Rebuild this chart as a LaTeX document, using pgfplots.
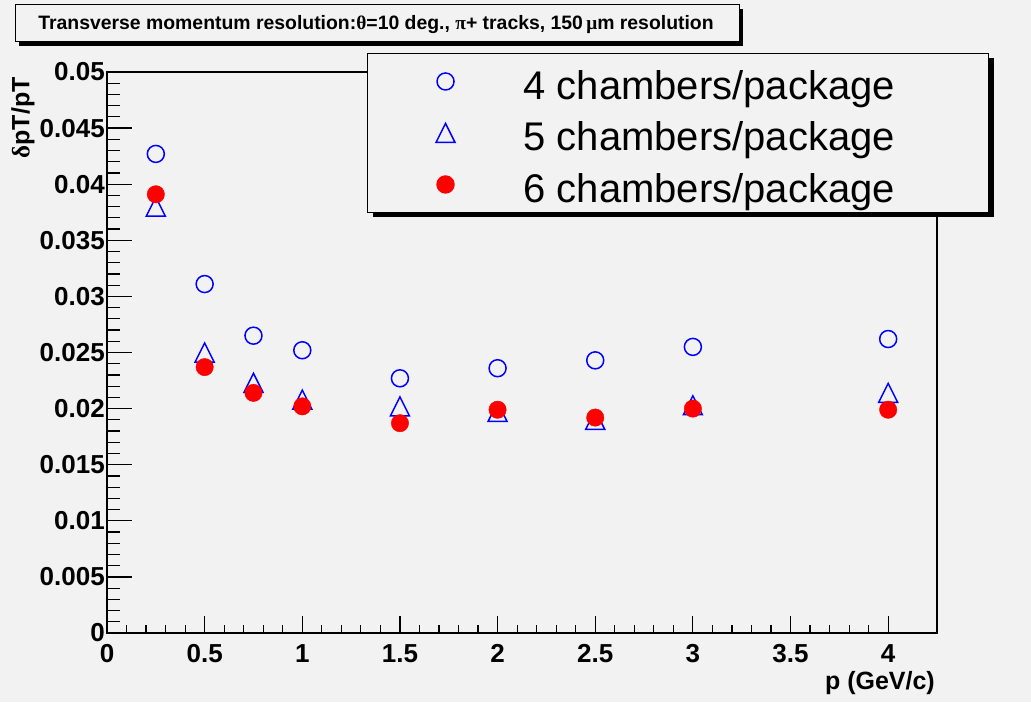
\documentclass[border=0pt]{standalone}
\usepackage{fontspec}
\setmainfont{Liberation Sans}
\newfontfamily\symfont{Liberation Serif}
\usepackage{pgfplots}
\pgfplotsset{compat=1.18}
\usetikzlibrary{shadows}
\definecolor{bg}{RGB}{242,242,242}
\definecolor{rblue}{RGB}{0,0,255}
\definecolor{rred}{RGB}{255,0,0}
\pgfdeclareplotmark{rtri}{%
  \pgfpathmoveto{\pgfqpoint{0pt}{\pgfplotmarksize}}%
  \pgfpathlineto{\pgfqpoint{-\pgfplotmarksize}{-\pgfplotmarksize}}%
  \pgfpathlineto{\pgfqpoint{\pgfplotmarksize}{-\pgfplotmarksize}}%
  \pgfpathclose\pgfusepathqstroke}
\begin{document}
\begin{tikzpicture}
\path[fill=bg,use as bounding box] (0,0) rectangle (1031pt,702pt);
% title box
\fill[black] (19pt,656pt) rectangle (743pt,693pt);
\draw[fill=bg, line width=1pt] (15pt,697pt) rectangle (739pt,660pt);
\node[font=\fontsize{19.4}{22}\selectfont\bfseries] at (376pt,677pt)
  {Transverse momentum resolution:{\symfont θ}=10 deg., {\symfont π}+ tracks, 150\,{\symfont μ}m resolution};
\begin{axis}[
  at={(107pt,69pt)}, anchor=south west,
  width=830pt, height=561pt, scale only axis,
  xmin=0, xmax=4.25, ymin=0, ymax=0.05,
  xtick={0,0.5,1,1.5,2,2.5,3,3.5,4},
  ytick={0,0.005,0.01,0.015,0.02,0.025,0.03,0.035,0.04,0.045,0.05},
  minor x tick num=4, minor y tick num=4,
  tick align=inside, xtick pos=left, ytick pos=left,
  xtick style={/pgfplots/major tick length=17pt,/pgfplots/minor tick length=8.5pt},
  ytick style={/pgfplots/major tick length=25pt,/pgfplots/minor tick length=12.5pt},
  every tick/.style={black, line width=1.2pt},
  axis line style={line width=1.3pt},
  scaled y ticks=false, scaled x ticks=false,
  tick label style={font=\fontsize{26}{30}\selectfont\bfseries, /pgf/number format/assume math mode=true},
  yticklabel style={/pgf/number format/fixed, /pgf/number format/precision=3, anchor=east, inner sep=0pt, xshift=-2pt},
  xticklabel style={anchor=north, inner sep=0pt, yshift=-11pt},
  xlabel={p (GeV/c)},
  ylabel={{\symfont\bfseries δ}pT/pT},
  every axis x label/.style={at={(axis description cs:0.9976,-0.1016)}, anchor=base east, inner sep=0pt, font=\fontsize{25}{28}\selectfont\bfseries},
  every axis y label/.style={at={(axis description cs:-0.1012,0.991)}, rotate=90, anchor=east, inner sep=0pt, font=\fontsize{25}{28}\selectfont\bfseries},
  legend style={at={(axis description cs:0.3133,1.0339)}, anchor=north west,
    draw=black, line width=1pt, fill=bg, inner xsep=0pt, inner ysep=2.25pt,
    drop shadow={shadow xshift=5pt, shadow yshift=-5pt, fill=black, opacity=1},
    nodes={inner sep=0pt}, font=\fontsize{40}{46}\selectfont},
  legend cell align=left,
  legend image code/.code={%
    \pgfpathrectanglecorners{\pgfqpoint{-78pt}{-21.75pt}}{\pgfqpoint{78pt}{29.75pt}}\pgfusepath{}%
    \draw[#1] plot coordinates {(0pt,4pt)};},
]
\addplot[only marks, mark=o, mark size=8.5pt, rblue, mark options={line width=1.5pt}] coordinates {
  (0.25,0.0427) (0.5,0.0311) (0.75,0.0265) (1,0.0252) (1.5,0.0227)
  (2,0.0236) (2.5,0.0243) (3,0.0255) (4,0.0262)};
\addlegendentry{\makebox[465pt][l]{4 chambers/package}}
\addplot[only marks, mark=rtri, mark size=9.5pt, rblue, mark options={line width=1.5pt}] coordinates {
  (0.25,0.0380) (0.5,0.0250) (0.75,0.0223) (1,0.0208) (1.5,0.0202)
  (2,0.0197) (2.5,0.0190) (3,0.0203) (4,0.0214)};
\addlegendentry{\makebox[465pt][l]{5 chambers/package}}
\addplot[only marks, mark=*, mark size=8.7pt, rred, mark options={draw=rred, fill=rred}] coordinates {
  (0.25,0.0391) (0.5,0.0237) (0.75,0.0214) (1,0.0202) (1.5,0.0187)
  (2,0.0199) (2.5,0.0192) (3,0.0200) (4,0.0199)};
\addlegendentry{\makebox[465pt][l]{6 chambers/package}}
\end{axis}
\end{tikzpicture}
\end{document}
